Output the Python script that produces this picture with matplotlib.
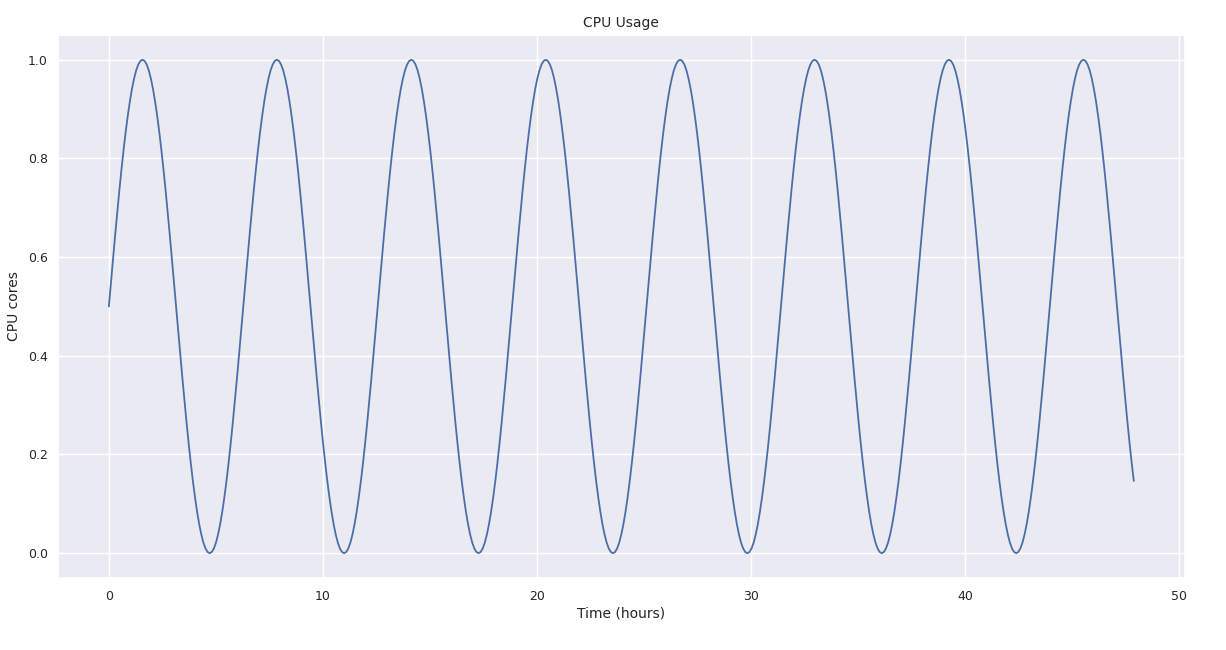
import numpy as np
import matplotlib
matplotlib.use("Agg")
import matplotlib.pyplot as plt
import seaborn as sns

# One cycle of CPU usage readings (64 evenly spaced samples per cycle)
cycle_values = [0.5, 0.5490, 0.5975, 0.6451, 0.6913, 0.7357, 0.7778, 0.8172,
                0.8536, 0.8865, 0.9157, 0.9410, 0.9619, 0.9785, 0.9904, 0.9976,
                1.0, 0.9976, 0.9904, 0.9785, 0.9619, 0.9410, 0.9157, 0.8865,
                0.8536, 0.8172, 0.7778, 0.7357, 0.6913, 0.6451, 0.5975, 0.5490,
                0.5, 0.4510, 0.4025, 0.3549, 0.3087, 0.2643, 0.2222, 0.1828,
                0.1464, 0.1135, 0.0843, 0.0590, 0.0381, 0.0215, 0.0096, 0.0024,
                0.0, 0.0024, 0.0096, 0.0215, 0.0381, 0.0590, 0.0843, 0.1135,
                0.1464, 0.1828, 0.2222, 0.2643, 0.3087, 0.3549, 0.4025, 0.4510]
cycle_hours = 6.28      # length of one cycle
n_samples = 489         # samples from 0 to ~47.9 hours

idx = np.arange(n_samples)
time_hours = idx * cycle_hours / len(cycle_values)
cpu_cores = np.array([cycle_values[i % len(cycle_values)] for i in idx])

sns.set_theme(style="darkgrid")
plt.rcParams['font.family'] = ['DejaVu Sans']

fig = plt.figure(figsize=(12.26, 6.5), dpi=100)
ax = fig.add_axes([0.047, 0.111, 0.9196, 0.835])
ax.plot(time_hours, cpu_cores, color="#4a6fa8", linewidth=1.3)
ax.set_title("CPU Usage", fontsize=10)
ax.set_xlabel("Time (hours)", fontsize=10, labelpad=2)
ax.set_ylabel("CPU cores", fontsize=10, labelpad=5)
ax.tick_params(axis="x", labelsize=9, pad=3)
ax.tick_params(axis="y", labelsize=9, pad=1)
ax.set_xticks([0, 10, 20, 30, 40, 50])
ax.set_yticks([0.0, 0.2, 0.4, 0.6, 0.8, 1.0])
fig.savefig("out.png", dpi=100)
